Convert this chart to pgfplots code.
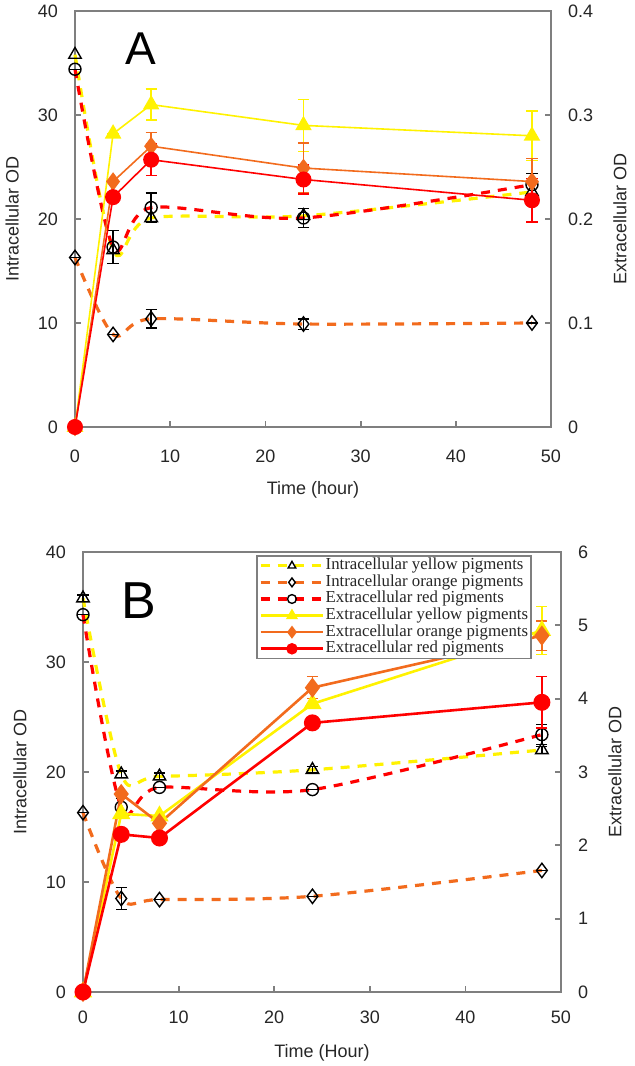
\documentclass[border=0pt]{standalone}
\usepackage{pgfplots}
\pgfplotsset{compat=1.18}
\usepackage{fontspec}
\setmainfont{Liberation Sans}
\newfontfamily\timesfont{Liberation Serif}
\definecolor{cyel}{HTML}{FFF200}
\definecolor{cora}{HTML}{F26B1D}
\definecolor{cred}{HTML}{FF0000}
\definecolor{axgray}{HTML}{7F7F7F}
\pgfplotsset{
  base/.style={scale only axis, anchor=south west, xmin=0, xmax=50, xtick={0,10,20,30,40,50},
    axis line style={axgray, line width=0.9pt},
    tick style={axgray, line width=0.9pt},
    tick align=inside, major tick length=3pt,
    tick label style={font=\fontsize{9}{9}\selectfont, text=black!85},
    /pgf/number format/assume math mode=true,
    label style={font=\fontsize{9}{9}\selectfont, text=black!85},
    clip=false},
  ebk/.style={error bars/.cd, y dir=both, y explicit,
    error bar style={black, line width=0.7pt, solid},
    error mark options={rotate=90, black, mark size=2.8pt, line width=0.7pt, solid}},
  ecol/.style={error bars/.cd, y dir=both, y explicit,
    error bar style={#1, line width=0.7pt, solid},
    error mark options={rotate=90, #1, mark size=2.8pt, line width=0.7pt, solid}},
  dashY/.style={cyel, line width=1.6pt, dash pattern=on 4.5pt off 4pt, smooth, mark=triangle, mark size=3.6pt, mark options={solid, draw=black, fill=white, line width=0.7pt}},
  dashO/.style={cora, line width=1.6pt, dash pattern=on 4.5pt off 4pt, smooth, mark=diamond, mark size=3.6pt, mark options={solid, draw=black, fill=white, line width=0.7pt}},
  dashR/.style={cred, line width=1.6pt, dash pattern=on 4.5pt off 4pt, smooth, mark=o, mark size=3pt, mark options={solid, draw=black, fill=white, line width=0.7pt}},
  solY/.style={cyel, line width=#1, mark=triangle*, mark size=4pt, mark options={solid, fill=cyel, draw=cyel}},
  solO/.style={cora, line width=#1, mark=diamond*, mark size=4pt, mark options={solid, fill=cora, draw=cora}},
  solR/.style={cred, line width=#1, mark=*, mark size=3.6pt, mark options={solid, fill=cred, draw=cred}},
}
\begin{document}
\begin{tikzpicture}
\useasboundingbox (0,0) rectangle (317pt,533pt);
% ================= Panel A =================
\begin{axis}[base, at={(37.5pt,319.5pt)}, width=238pt, height=208pt,
  ymin=0, ymax=40, ytick={0,10,20,30,40}, xtick pos=lower, ytick pos=left,
  yticklabel style={xshift=-5pt}, xticklabel style={yshift=-7.75pt},
  xlabel={Time (hour)}, ylabel={Intracellular OD},
  xlabel style={at={(axis description cs:0.5,-0.151)}, anchor=center},
  ylabel style={at={(axis description cs:-0.132,0.5)}, anchor=center}]
\addplot[dashY] coordinates {(0,35.8) (4,17.0) (8,20.1) (24,20.3) (48,22.6)};
\addplot[dashO, ebk] coordinates {(0,16.3) +- (0,0) (4,8.9) +- (0,0) (8,10.4) +- (0,0.9) (24,9.9) +- (0,0.5) (48,10.0) +- (0,0)};
\addplot[dashR, ebk] coordinates {(0,34.4) +- (0,0) (4,17.3) +- (0,1.6) (8,21.1) +- (0,1.4) (24,20.1) +- (0,0.9) (48,23.3) +- (0,1.1)};
\node[font=\fontsize{23}{23}\selectfont] at (axis description cs:0.139,0.91) {A};
\end{axis}
\begin{axis}[base, at={(37.5pt,319.5pt)}, width=238pt, height=208pt,
  ymin=0, ymax=0.4, ytick={0,0.1,0.2,0.3,0.4}, axis y line*=right, axis x line=none,
  yticklabel style={xshift=5pt}, ylabel={Extracellular OD},
  ylabel style={at={(axis description cs:1.145,0.5)}, anchor=center}]
\addplot[solY=0.8pt, ecol=cyel] coordinates {(0,0) +- (0,0) (4,0.282) +- (0,0) (8,0.310) +- (0,0.015) (24,0.290) +- (0,0.025) (48,0.280) +- (0,0.024)};
\addplot[solO=0.8pt, ecol=cora] coordinates {(0,0) +- (0,0) (4,0.236) +- (0,0) (8,0.270) +- (0,0.013) (24,0.249) +- (0,0.024) (48,0.236) +- (0,0.022)};
\addplot[solR=0.8pt, ecol=cred] coordinates {(0,0) +- (0,0) (4,0.221) +- (0,0) (8,0.257) +- (0,0.015) (24,0.238) +- (0,0.014) (48,0.218) +- (0,0.021)};
\end{axis}
% ================= Panel B =================
\begin{axis}[base, at={(41.5pt,37pt)}, width=239pt, height=220pt,
  ymin=0, ymax=40, ytick={0,10,20,30,40}, xtick pos=lower, ytick pos=left,
  yticklabel style={xshift=-5pt}, xticklabel style={yshift=-5.75pt},
  xlabel={Time (Hour)}, ylabel={Intracellular OD},
  xlabel style={at={(axis description cs:0.5,-0.139)}, anchor=center},
  ylabel style={at={(axis description cs:-0.132,0.5)}, anchor=center}]
\addplot[dashY, ebk] coordinates {(0,35.8) +- (0,0.3) (4,19.8) +- (0,0.3) (8,19.6) +- (0,0.3) (24,20.2) +- (0,0.3) (48,22.0) +- (0,0.3)};
\addplot[dashO, ebk] coordinates {(0,16.3) +- (0,0) (4,8.5) +- (0,1.0) (8,8.4) +- (0,0) (24,8.7) +- (0,0) (48,11.05) +- (0,0)};
\addplot[dashR, ebk] coordinates {(0,34.3) +- (0,0) (4,16.8) +- (0,0.8) (8,18.6) +- (0,0) (24,18.4) +- (0,0) (48,23.4) +- (0,0.9)};
\node[font=\fontsize{26}{26}\selectfont] at (axis description cs:0.117,0.889) {B};
\end{axis}
\begin{axis}[base, at={(41.5pt,37pt)}, width=239pt, height=220pt,
  ymin=0, ymax=6, ytick={0,1,2,3,4,5,6}, axis y line*=right, axis x line=none,
  yticklabel style={xshift=5pt}, ylabel={Extracellular OD},
  ylabel style={at={(axis description cs:1.113,0.5)}, anchor=center},
  legend style={at={(0.939,0.993)}, anchor=north east, fill=white, draw=axgray, line width=0.9pt,
    font=\timesfont\fontsize{8.4}{8.4}\selectfont, inner sep=1pt, row sep=0.5pt,
    nodes={inner sep=0.4pt, text height=5.5pt, text depth=1.5pt, text=black!85}},
  legend cell align=left,
  legend image code/.code={\draw[mark size=2.2pt, mark repeat=2, mark phase=2] plot coordinates {(0cm,0cm) (0.55cm,0cm) (1.1cm,0cm)};}]
\addlegendimage{dashY}
\addlegendentry{Intracellular yellow pigments}
\addlegendimage{dashO}
\addlegendentry{Intracellular orange pigments}
\addlegendimage{dashR}
\addlegendentry{Extracellular red pigments}
\addplot[solY=1.3pt, ecol=cyel] coordinates {(0,0) +- (0,0) (4,2.43) +- (0,0) (8,2.40) +- (0,0) (24,3.93) +- (0,0) (48,4.93) +- (0,0.33)};
\addlegendentry{Extracellular yellow pigments}
\addplot[solO=1.3pt, ecol=cora] coordinates {(0,0) +- (0,0) (4,2.70) +- (0,0) (8,2.30) +- (0,0) (24,4.15) +- (0,0.15) (48,4.86) +- (0,0.2)};
\addlegendentry{Extracellular orange pigments}
\addplot[solR=1.3pt, ecol=cred] coordinates {(0,0) +- (0,0) (4,2.15) +- (0,0) (8,2.10) +- (0,0) (24,3.67) +- (0,0) (48,3.95) +- (0,0.35)};
\addlegendentry{Extracellular red pigments}
\end{axis}
\end{tikzpicture}
\end{document}
